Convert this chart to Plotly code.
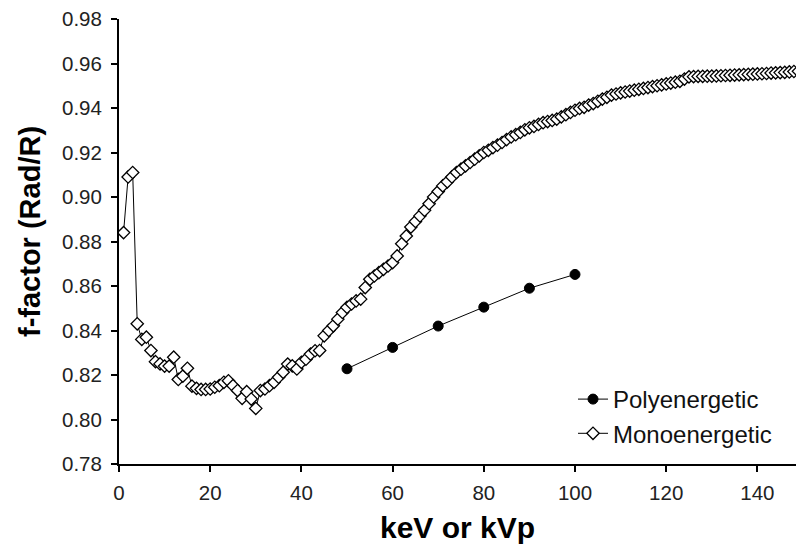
import plotly.graph_objects as go

mono_kev = list(range(1, 151))
mono_f = [
    0.884, 0.909, 0.911, 0.843, 0.836, 0.837, 0.831, 0.826, 0.825, 0.824,
    0.824, 0.828, 0.818, 0.8195, 0.823, 0.815, 0.814, 0.8135, 0.8135, 0.8137,
    0.8145, 0.8152, 0.8167, 0.8174, 0.8152, 0.813, 0.8095, 0.8125, 0.8092, 0.805,
    0.813, 0.8137, 0.8152, 0.8167, 0.819, 0.8212, 0.8249, 0.8241, 0.8227, 0.8257,
    0.8271, 0.8294, 0.8309, 0.831, 0.8376, 0.840, 0.8421, 0.8451, 0.8481, 0.8504,
    0.8519, 0.8533, 0.8541, 0.8593, 0.863, 0.8645, 0.866, 0.8675, 0.869, 0.8705,
    0.8735, 0.879, 0.8825, 0.8865, 0.889, 0.8915, 0.894, 0.897, 0.900, 0.9025,
    0.905, 0.9068, 0.909, 0.911, 0.9125, 0.914, 0.9155, 0.917, 0.9185, 0.920,
    0.921, 0.9222, 0.9233, 0.9245, 0.9258, 0.927, 0.928, 0.929, 0.9302, 0.9311,
    0.9317, 0.9326, 0.9334, 0.9339, 0.9344, 0.935, 0.936, 0.937, 0.938, 0.939,
    0.9398, 0.9403, 0.9413, 0.942, 0.943, 0.944, 0.9448, 0.9458, 0.9463, 0.9468,
    0.9472, 0.9476, 0.948, 0.9484, 0.9488, 0.9492, 0.9496, 0.950, 0.9504, 0.9508,
    0.9512, 0.9516, 0.952, 0.953, 0.954, 0.9541, 0.9542, 0.9542, 0.9543, 0.9543,
    0.9544, 0.9545, 0.9546, 0.9547, 0.9548, 0.9549, 0.955, 0.9551, 0.9552, 0.9553,
    0.9554, 0.9555, 0.9557, 0.9558, 0.9559, 0.956, 0.9562, 0.9564, 0.9565, 0.9566,
]

poly_kvp = [50, 60, 70, 80, 90, 100]
poly_f = [0.8228, 0.8324, 0.8420, 0.8505, 0.8590, 0.8652]

x_ticks = [0, 20, 40, 60, 80, 100, 120, 140]
y_ticks = [0.78, 0.80, 0.82, 0.84, 0.86, 0.88, 0.90, 0.92, 0.94, 0.96, 0.98]

W, H = 796, 551
L, R, T, B = 119, 0, 19, 87

fig = go.Figure()
fig.add_trace(go.Scatter(
    x=poly_kvp, y=poly_f, name="Polyenergetic", mode="lines+markers",
    line=dict(color="black", width=1),
    marker=dict(symbol="circle", size=10, color="black", line=dict(color="black", width=1)),
))
fig.add_trace(go.Scatter(
    x=mono_kev, y=mono_f, name="Monoenergetic", mode="lines+markers",
    line=dict(color="black", width=1),
    marker=dict(symbol="diamond", size=9.5, color="white", line=dict(color="black", width=1.3)),
))

font_family = "Liberation Sans, Arial, sans-serif"
plot_h = H - T - B
fig.update_layout(
    width=W, height=H,
    margin=dict(l=L, r=R, t=T, b=B, autoexpand=False),
    paper_bgcolor="white", plot_bgcolor="white",
    font=dict(family=font_family, color="black", size=20),
    legend=dict(
        x=(573 - L) / (W - L), y=(H - B - 377) / plot_h, xanchor="left", yanchor="top",
        bgcolor="rgba(0,0,0,0)", font=dict(size=24, color="#111"),
        tracegroupgap=0,
    ),
    showlegend=True,
    annotations=[dict(
        text="<b>f-factor (Rad/R)</b>", textangle=-90, showarrow=False,
        xref="paper", yref="paper",
        x=(30 - L) / (W - L), y=(H - B - 232) / plot_h,
        xanchor="center", yanchor="middle",
        font=dict(size=29, color="black", family=font_family),
    )],
)
fig.update_xaxes(
    range=[0, (W - L) / 4.56], tickvals=x_ticks, ticktext=[str(v) for v in x_ticks],
    showgrid=False, zeroline=False, showline=True, linecolor="black", linewidth=2,
    ticks="outside", ticklen=6, tickwidth=2, tickcolor="black",
    tickfont=dict(size=20.5, color="#222"), automargin=False,
    ticklabelstandoff=3,
    title=dict(text="<b>keV or kVp</b>", font=dict(size=30, color="black"), standoff=14),
)
fig.update_yaxes(
    range=[0.78, 0.98], tickvals=y_ticks, ticktext=[f"{v:.2f}" for v in y_ticks],
    showgrid=False, zeroline=False, showline=True, linecolor="black", linewidth=2,
    ticks="outside", ticklen=6, tickwidth=2, tickcolor="black",
    tickfont=dict(size=20.5, color="#222"), automargin=False,
    ticklabelstandoff=5,
)

fig.write_html(
    "out.html",
    config={"displayModeBar": False},
    post_script="document.body.style.margin='0';document.body.style.overflow='hidden';",
)
